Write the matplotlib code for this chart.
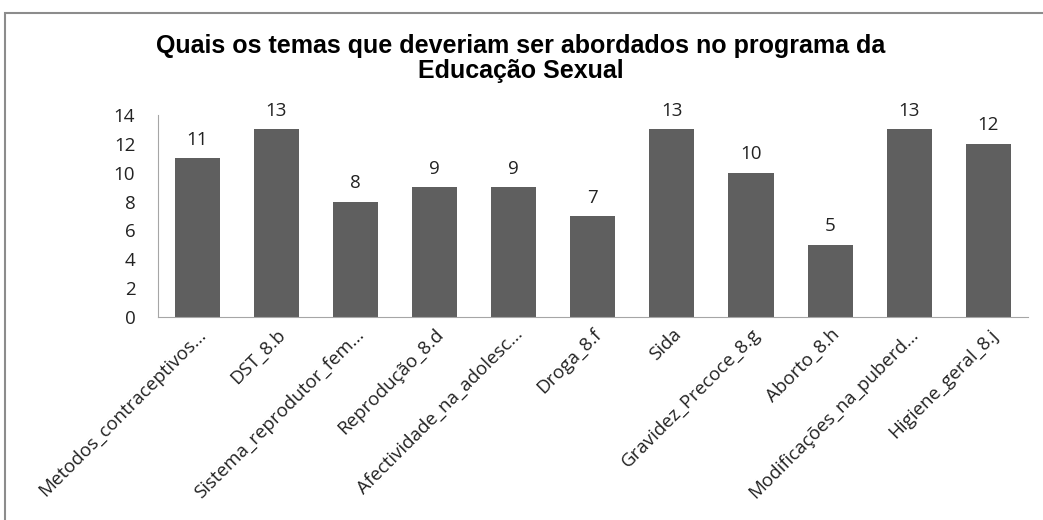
import matplotlib.pyplot as plt
from matplotlib.patches import Rectangle

categories = ["Metodos_contraceptivos...", "DST_8.b", "Sistema_reprodutor_fem...",
              "Reprodução_8.d", "Afectividade_na_adolesc...", "Droga_8.f", "Sida",
              "Gravidez_Precoce_8.g", "Aborto_8.h", "Modificações_na_puberd...",
              "Higiene_geral_8.j"]
values = [11, 13, 8, 9, 9, 7, 13, 10, 5, 13, 12]
yticks = [0, 2, 4, 6, 8, 10, 12, 14]

fig = plt.figure(figsize=(10.43, 5.20), dpi=100)
# outer chart frame
fig.patches.append(Rectangle((5 / 1043, -0.05), 1.1, 1 - 13 / 520 + 0.05,
                             transform=fig.transFigure, fill=False,
                             edgecolor="#8c8c8c", linewidth=1.5))

ax = fig.add_axes([157.5 / 1043, 1 - 317 / 520, (1028 - 157.5) / 1043, (317 - 115) / 520])
x = range(len(categories))
ax.bar(x, values, width=0.57, color="#5f5f5f")
for i, v in enumerate(values):
    ax.text(i, v + 0.65, str(v), ha="center", va="bottom", fontsize=13.5,
            family="Open Sans", color="#222222")

ax.set_xlim(-0.5, len(categories) - 0.5)
ax.set_ylim(0, 14)
ax.set_yticks(yticks)
ax.set_yticklabels([str(t) for t in yticks], family="Open Sans", fontsize=13.5)
ax.set_xticks(list(x))
ax.set_xticklabels(categories, rotation=45, ha="right", rotation_mode="anchor",
                   family="Open Sans", fontsize=13.5)
ax.tick_params(axis="y", length=0, pad=16, colors="#222222")
ax.tick_params(axis="x", length=0, pad=6, colors="#222222")
for s in ["top", "right"]:
    ax.spines[s].set_visible(False)
for s in ["left", "bottom"]:
    ax.spines[s].set_color("#a6a6a6")

fig.text(0.4995, 0.888, "Quais os temas que deveriam ser abordados no programa da\nEducação Sexual",
         ha="center", va="center", fontsize=18, fontweight="bold",
         family="Liberation Sans", linespacing=1.05)

fig.savefig("out.png", dpi=100)
